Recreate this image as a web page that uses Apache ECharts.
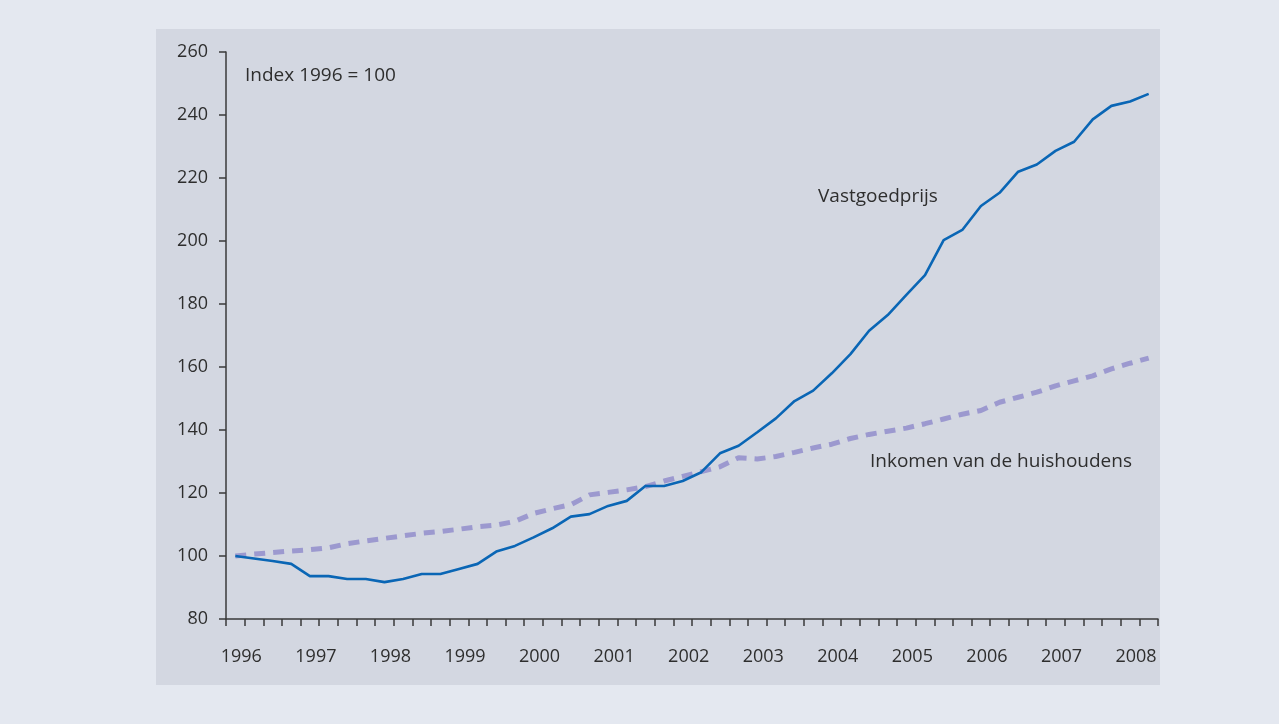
<!DOCTYPE html>
<html>
<head>
<meta charset="utf-8">
<script src="https://cdn.jsdelivr.net/npm/echarts@6/dist/echarts.min.js"></script>
<style>
  html, body { margin: 0; padding: 0; background: #e4e8f0; }
  #chart { width: 1279px; height: 724px; }
</style>
</head>
<body>
<div id="chart"></div>
<script>
// kwartalen 1996 K1 t/m 2008 K2
var years = ['1996', '1997', '1998', '1999', '2000', '2001', '2002', '2003', '2004', '2005', '2006', '2007', '2008'];
var quarters = [];
for (var y = 0; y < years.length; y++) {
  for (var q = 1; q <= 4; q++) {
    if (years[y] === '2008' && q > 2) break;
    quarters.push(years[y] + ' K' + q);
  }
}

// Index 1996 = 100
var vastgoedprijs = [
  100, 99.2, 98.4, 97.5, 93.6, 93.6, 92.7, 92.7, 91.7, 92.7,
  94.3, 94.3, 95.9, 97.5, 101.4, 103.2, 105.9, 108.8, 112.5, 113.3,
  115.9, 117.5, 122.2, 122.2, 123.8, 126.6, 132.6, 135.0, 139.3, 143.7,
  149.2, 152.5, 158.0, 164.1, 171.5, 176.5, 182.9, 189.2, 200.3, 203.5,
  211.1, 215.3, 222.0, 224.3, 228.6, 231.5, 238.6, 242.9, 244.3, 246.7
];
var inkomen = [
  100, 100.6, 101.1, 101.6, 102.0, 102.6, 103.9, 104.8, 105.6, 106.4,
  107.2, 107.8, 108.5, 109.3, 109.8, 111.0, 113.5, 115.0, 116.3, 119.4,
  120.2, 121.0, 122.0, 123.8, 125.3, 126.8, 128.3, 131.2, 130.8, 131.6,
  132.9, 134.3, 135.5, 137.3, 138.6, 139.6, 140.6, 142.0, 143.5, 145.0,
  146.2, 148.8, 150.4, 152.0, 154.0, 155.6, 157.2, 159.4, 161.2, 162.8
];

var fontFam = '"Open Sans", "Noto Sans", sans-serif';
var txtColor = '#2e2e2e';

var chart = echarts.init(document.getElementById('chart'));
chart.setOption({
  backgroundColor: '#e4e8f0',
  animation: false,
  textStyle: { fontFamily: fontFam },
  grid: { left: 226, right: 121, top: 52, bottom: 105 },
  graphic: {
    elements: [
      {
        type: 'rect', z: -100, silent: true,
        shape: { x: 156, y: 29, width: 1004, height: 656 },
        style: { fill: '#d3d7e1' }
      },
      {
        type: 'text', left: 245, top: 66, z: 10,
        style: { text: 'Index 1996 = 100', fill: txtColor, font: '19px ' + fontFam }
      },
      {
        type: 'text', left: 818, top: 187, z: 10,
        style: { text: 'Vastgoedprijs', fill: txtColor, font: '19px ' + fontFam }
      },
      {
        type: 'text', left: 870, top: 452, z: 10,
        style: { text: 'Inkomen van de huishoudens', fill: txtColor, font: '19px ' + fontFam }
      }
    ]
  },
  xAxis: {
    type: 'category',
    data: quarters,
    boundaryGap: true,
    axisLine: { lineStyle: { color: '#3a3a3a', width: 1.5 } },
    axisTick: { show: true, interval: 0, length: 7, lineStyle: { color: '#3a3a3a', width: 1.5 } },
    axisLabel: {
      interval: 3,
      margin: 29,
      color: txtColor,
      fontSize: 18,
      formatter: function (v) { return '{a|' + v.slice(0, 4) + '}'; },
      rich: { a: { fontSize: 18, color: txtColor, fontFamily: fontFam, padding: [0, 0, 0, 12] } }
    },
    splitLine: { show: false }
  },
  yAxis: {
    type: 'value',
    min: 80,
    max: 260,
    interval: 20,
    axisLine: { show: true, lineStyle: { color: '#3a3a3a', width: 1.5 } },
    axisTick: { show: true, length: 7, lineStyle: { color: '#3a3a3a', width: 1.5 } },
    axisLabel: { margin: 18, color: txtColor, fontSize: 18 },
    splitLine: { show: false }
  },
  series: [
    {
      name: 'Inkomen van de huishoudens',
      type: 'line',
      data: inkomen,
      symbol: 'none',
      lineStyle: { color: '#9c99cf', width: 5, type: [11, 8] },
      z: 2
    },
    {
      name: 'Vastgoedprijs',
      type: 'line',
      data: vastgoedprijs,
      symbol: 'none',
      lineStyle: { color: '#0a66b5', width: 2.6 },
      z: 3
    }
  ]
});
</script>
</body>
</html>
